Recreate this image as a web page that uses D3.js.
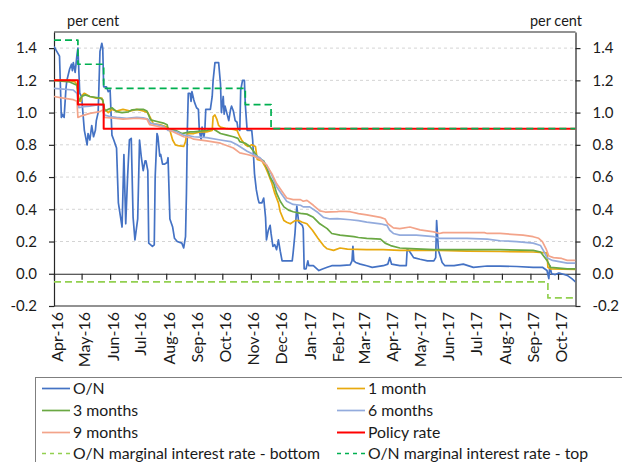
<!DOCTYPE html>
<html>
<head>
<meta charset="utf-8">
<script src="https://cdn.jsdelivr.net/npm/d3@7"></script>
<style>
  html, body { margin: 0; padding: 0; background: #fff; }
  svg text { font-family: Lato, "Open Sans", sans-serif; fill: #1a1a1a; }
</style>
</head>
<body>
<svg id="chart" width="622" height="462"></svg>
<script>
// Overnight interbank rate (per cent)
const overnight = [
  ["2016-04-01",1.41],["2016-04-04",1.38],["2016-04-07",1.35],["2016-04-09",0.97],["2016-04-10",0.99],
  ["2016-04-12",0.97],["2016-04-14",1.15],["2016-04-15",1.20],["2016-04-18",1.27],["2016-04-20",1.30],
  ["2016-04-21",1.26],["2016-04-22",1.31],["2016-04-24",1.25],["2016-04-26",1.36],["2016-04-27",1.40],
  ["2016-04-29",1.12],["2016-05-01",1.10],["2016-05-04",0.89],["2016-05-07",0.80],["2016-05-08",0.87],
  ["2016-05-10",0.83],["2016-05-12",0.92],["2016-05-14",0.85],["2016-05-16",0.89],["2016-05-17",0.95],
  ["2016-05-19",1.00],["2016-05-21",1.38],["2016-05-23",1.43],["2016-05-24",1.40],["2016-05-25",1.16],
  ["2016-05-28",1.16],["2016-05-30",1.13],["2016-06-01",1.14],["2016-06-03",0.86],["2016-06-05",0.83],
  ["2016-06-08",0.78],["2016-06-10",0.44],["2016-06-14",0.29],["2016-06-16",0.74],["2016-06-18",0.31],
  ["2016-06-20",0.60],["2016-06-22",0.83],["2016-06-24",0.84],["2016-06-26",0.35],["2016-06-28",0.21],
  ["2016-07-01",0.34],["2016-07-03",0.83],["2016-07-05",0.72],["2016-07-07",0.64],["2016-07-09",0.70],
  ["2016-07-10",0.70],["2016-07-12",0.64],["2016-07-13",0.19],["2016-07-17",0.17],["2016-07-19",0.18],
  ["2016-07-20",0.60],["2016-07-22",0.87],["2016-07-23",0.85],["2016-07-25",0.73],["2016-07-26",0.74],
  ["2016-07-28",0.68],["2016-07-30",0.68],["2016-08-02",0.69],["2016-08-03",0.72],["2016-08-05",0.34],
  ["2016-08-08",0.29],["2016-08-10",0.22],["2016-08-13",0.20],["2016-08-18",0.19],["2016-08-20",0.16],
  ["2016-08-22",0.23],["2016-08-23",0.50],["2016-08-24",0.90],["2016-08-25",1.12],["2016-08-27",1.12],
  ["2016-08-28",1.07],["2016-08-29",1.13],["2016-08-31",1.08],["2016-09-01",1.06],["2016-09-03",1.03],
  ["2016-09-05",1.02],["2016-09-06",0.89],["2016-09-08",0.83],["2016-09-09",0.91],["2016-09-11",0.85],
  ["2016-09-12",0.89],["2016-09-13",1.02],["2016-09-16",1.02],["2016-09-18",1.02],["2016-09-20",1.10],
  ["2016-09-21",1.20],["2016-09-23",1.31],["2016-09-27",1.31],["2016-09-29",1.18],["2016-09-30",1.00],
  ["2016-10-02",1.10],["2016-10-03",0.99],["2016-10-04",1.04],["2016-10-08",0.95],["2016-10-10",1.02],
  ["2016-10-11",1.04],["2016-10-13",1.01],["2016-10-15",0.95],["2016-10-17",0.94],["2016-10-18",0.90],
  ["2016-10-20",0.89],["2016-10-21",1.14],["2016-10-23",1.20],["2016-10-25",1.20],["2016-10-26",1.05],
  ["2016-10-28",0.89],["2016-11-02",0.89],["2016-11-03",0.83],["2016-11-05",0.62],["2016-11-07",0.52],
  ["2016-11-09",0.46],["2016-11-10",0.44],["2016-11-13",0.44],["2016-11-15",0.47],["2016-11-17",0.35],
  ["2016-11-18",0.21],["2016-11-20",0.27],["2016-11-22",0.30],["2016-11-23",0.25],["2016-11-25",0.17],
  ["2016-11-27",0.18],["2016-11-29",0.15],["2016-12-01",0.21],["2016-12-03",0.14],["2016-12-05",0.08],
  ["2016-12-08",0.08],["2016-12-16",0.08],["2016-12-17",0.13],["2016-12-19",0.25],["2016-12-21",0.42],
  ["2016-12-23",0.32],["2016-12-27",0.30],["2016-12-28",0.28],["2016-12-29",0.03],["2016-12-31",0.03],
  ["2017-01-02",0.08],["2017-01-03",0.05],["2017-01-08",0.05],["2017-01-14",0.02],["2017-01-18",0.03],
  ["2017-01-23",0.04],["2017-01-28",0.05],["2017-02-06",0.05],["2017-02-17",0.055],["2017-02-19",0.08],
  ["2017-02-20",0.17],["2017-02-21",0.08],["2017-02-23",0.07],["2017-02-28",0.06],["2017-03-07",0.05],
  ["2017-03-13",0.04],["2017-03-25",0.05],["2017-03-30",0.06],["2017-04-01",0.10],["2017-04-03",0.06],
  ["2017-04-12",0.05],["2017-04-19",0.05],["2017-04-20",0.155],["2017-04-23",0.135],["2017-04-27",0.10],
  ["2017-05-04",0.09],["2017-05-12",0.08],["2017-05-19",0.08],["2017-05-21",0.10],["2017-05-22",0.33],
  ["2017-05-24",0.145],["2017-05-28",0.07],["2017-05-31",0.05],["2017-06-10",0.05],["2017-06-20",0.06],
  ["2017-07-01",0.04],["2017-07-16",0.048],["2017-07-30",0.048],["2017-08-17",0.045],["2017-09-04",0.04],
  ["2017-09-14",0.04],["2017-09-19",0.02],["2017-09-21",-0.03],["2017-09-22",0.05],["2017-09-24",0.00],
  ["2017-09-28",-0.005],["2017-10-02",0.005],["2017-10-05",0.00],["2017-10-11",-0.01],["2017-10-16",-0.03],
  ["2017-10-20",-0.05]
];

// 1-month rate
const oneMonth = [
  ["2016-04-01",1.20],["2016-04-18",1.20],["2016-04-24",1.19],["2016-04-26",1.17],["2016-04-28",1.08],
  ["2016-04-30",1.07],["2016-05-02",1.11],["2016-05-04",1.12],["2016-05-10",1.10],["2016-05-17",1.09],
  ["2016-05-23",1.09],["2016-05-24",1.07],["2016-05-26",1.02],["2016-05-30",1.00],["2016-06-03",1.02],
  ["2016-06-08",1.01],["2016-06-15",1.02],["2016-06-23",1.01],["2016-06-30",1.02],["2016-07-07",1.01],
  ["2016-07-12",1.00],["2016-07-15",0.965],["2016-07-18",0.93],["2016-07-25",0.925],["2016-08-02",0.91],
  ["2016-08-05",0.89],["2016-08-08",0.83],["2016-08-11",0.80],["2016-08-14",0.795],["2016-08-20",0.79],
  ["2016-08-22",0.82],["2016-08-23",0.86],["2016-08-25",0.87],["2016-08-31",0.87],["2016-09-07",0.88],
  ["2016-09-14",0.88],["2016-09-20",0.89],["2016-09-21",0.975],["2016-09-23",0.985],["2016-09-25",0.96],
  ["2016-09-27",0.92],["2016-09-29",0.91],["2016-10-06",0.90],["2016-10-13",0.895],["2016-10-17",0.89],
  ["2016-10-20",0.85],["2016-10-22",0.83],["2016-10-26",0.80],["2016-10-29",0.79],["2016-11-02",0.80],
  ["2016-11-06",0.79],["2016-11-08",0.71],["2016-11-13",0.70],["2016-11-17",0.66],["2016-11-20",0.62],
  ["2016-11-24",0.56],["2016-11-27",0.50],["2016-12-01",0.44],["2016-12-03",0.385],["2016-12-07",0.33],
  ["2016-12-10",0.32],["2016-12-14",0.31],["2016-12-19",0.33],["2016-12-23",0.33],["2016-12-27",0.32],
  ["2017-01-01",0.31],["2017-01-07",0.27],["2017-01-13",0.22],["2017-01-19",0.175],["2017-01-23",0.155],
  ["2017-01-30",0.145],["2017-02-06",0.16],["2017-02-14",0.153],["2017-03-07",0.15],["2017-03-25",0.15],
  ["2017-04-12",0.145],["2017-04-30",0.147],["2017-05-25",0.145],["2017-06-24",0.14],["2017-07-30",0.138],
  ["2017-09-04",0.135],["2017-09-19",0.13],["2017-09-20",0.04],["2017-09-23",0.03],["2017-10-20",0.027]
];

// 3-month rate
const threeMonths = [
  ["2016-04-01",1.20],["2016-04-18",1.19],["2016-04-26",1.17],["2016-04-28",1.07],["2016-05-01",1.10],
  ["2016-05-05",1.11],["2016-05-10",1.10],["2016-05-21",1.09],["2016-05-24",1.08],["2016-05-26",1.01],
  ["2016-05-30",1.02],["2016-06-03",1.03],["2016-06-08",1.006],["2016-06-14",1.00],["2016-06-21",1.005],
  ["2016-06-25",1.017],["2016-07-02",1.02],["2016-07-07",1.02],["2016-07-11",1.01],["2016-07-15",0.955],
  ["2016-07-22",0.945],["2016-07-29",0.935],["2016-08-02",0.925],["2016-08-03",0.90],["2016-08-11",0.89],
  ["2016-08-18",0.87],["2016-08-27",0.88],["2016-08-31",0.88],["2016-09-07",0.885],["2016-09-14",0.89],
  ["2016-09-21",0.90],["2016-09-29",0.87],["2016-10-06",0.86],["2016-10-13",0.85],["2016-10-18",0.84],
  ["2016-10-20",0.82],["2016-10-26",0.81],["2016-10-31",0.79],["2016-11-04",0.76],["2016-11-09",0.72],
  ["2016-11-15",0.70],["2016-11-19",0.65],["2016-11-22",0.60],["2016-11-26",0.56],["2016-11-29",0.50],
  ["2016-12-03",0.45],["2016-12-07",0.415],["2016-12-12",0.395],["2016-12-17",0.385],["2016-12-25",0.375],
  ["2017-01-01",0.37],["2017-01-08",0.35],["2017-01-15",0.31],["2017-01-23",0.28],["2017-01-28",0.25],
  ["2017-02-06",0.24],["2017-02-21",0.23],["2017-02-26",0.225],["2017-03-07",0.22],["2017-03-22",0.215],
  ["2017-03-27",0.19],["2017-04-02",0.175],["2017-04-12",0.16],["2017-04-30",0.155],["2017-05-19",0.15],
  ["2017-06-24",0.15],["2017-07-30",0.15],["2017-09-04",0.145],["2017-09-12",0.135],["2017-09-19",0.083],
  ["2017-09-23",0.04],["2017-10-11",0.03],["2017-10-20",0.03]
];

// 6-month rate
const sixMonths = [
  ["2016-04-01",1.15],["2016-04-11",1.145],["2016-04-22",1.14],["2016-04-26",1.12],["2016-04-28",1.03],
  ["2016-05-03",1.037],["2016-05-10",1.04],["2016-05-21",1.05],["2016-05-24",1.045],["2016-05-26",0.985],
  ["2016-06-01",0.975],["2016-06-08",0.97],["2016-06-19",0.965],["2016-06-30",0.97],["2016-07-07",0.968],
  ["2016-07-12",0.96],["2016-07-15",0.935],["2016-07-22",0.925],["2016-07-29",0.915],["2016-08-03",0.89],
  ["2016-08-13",0.88],["2016-08-20",0.86],["2016-08-27",0.855],["2016-08-31",0.85],["2016-09-14",0.845],
  ["2016-09-29",0.83],["2016-10-10",0.82],["2016-10-17",0.80],["2016-10-28",0.76],["2016-11-04",0.74],
  ["2016-11-11",0.72],["2016-11-18",0.675],["2016-11-24",0.61],["2016-11-29",0.54],["2016-12-05",0.49],
  ["2016-12-10",0.45],["2016-12-17",0.43],["2016-12-25",0.425],["2016-12-28",0.415],["2017-01-04",0.415],
  ["2017-01-13",0.38],["2017-01-19",0.35],["2017-01-26",0.34],["2017-02-03",0.342],["2017-02-17",0.335],
  ["2017-02-26",0.33],["2017-03-07",0.32],["2017-03-22",0.31],["2017-03-29",0.30],["2017-04-01",0.27],
  ["2017-04-05",0.25],["2017-04-12",0.24],["2017-04-30",0.24],["2017-05-19",0.23],["2017-05-25",0.22],
  ["2017-06-24",0.22],["2017-07-16",0.215],["2017-07-30",0.205],["2017-08-17",0.20],["2017-09-04",0.19],
  ["2017-09-12",0.175],["2017-09-15",0.145],["2017-09-19",0.10],["2017-09-25",0.083],["2017-10-11",0.066],
  ["2017-10-20",0.066]
];

// 9-month rate
const nineMonths = [
  ["2016-04-01",1.10],["2016-04-11",1.09],["2016-04-22",1.08],["2016-04-26",1.07],["2016-04-27",0.97],
  ["2016-05-01",0.98],["2016-05-10",0.995],["2016-05-21",1.006],["2016-05-24",1.017],["2016-05-26",0.97],
  ["2016-06-05",0.965],["2016-06-15",0.96],["2016-06-30",0.965],["2016-07-11",0.96],["2016-07-14",0.925],
  ["2016-07-22",0.915],["2016-08-02",0.90],["2016-08-09",0.88],["2016-08-20",0.85],["2016-08-27",0.845],
  ["2016-08-31",0.835],["2016-09-14",0.825],["2016-09-29",0.81],["2016-10-13",0.78],["2016-10-20",0.75],
  ["2016-10-28",0.74],["2016-11-04",0.73],["2016-11-11",0.71],["2016-11-18",0.675],["2016-11-24",0.62],
  ["2016-11-29",0.56],["2016-12-05",0.51],["2016-12-10",0.47],["2016-12-17",0.46],["2016-12-25",0.46],
  ["2016-12-28",0.45],["2017-01-01",0.455],["2017-01-08",0.425],["2017-01-15",0.39],["2017-01-21",0.383],
  ["2017-02-03",0.385],["2017-02-06",0.388],["2017-02-17",0.385],["2017-02-26",0.373],["2017-03-07",0.365],
  ["2017-03-22",0.35],["2017-03-27",0.34],["2017-03-30",0.31],["2017-04-05",0.285],["2017-04-12",0.28],
  ["2017-04-23",0.29],["2017-05-04",0.272],["2017-05-19",0.26],["2017-05-25",0.25],["2017-05-29",0.255],
  ["2017-06-24",0.255],["2017-07-13",0.255],["2017-07-16",0.25],["2017-07-30",0.25],["2017-08-24",0.24],
  ["2017-09-04",0.23],["2017-09-10",0.22],["2017-09-14",0.20],["2017-09-18",0.155],["2017-09-21",0.11],
  ["2017-09-26",0.10],["2017-10-05",0.095],["2017-10-11",0.083],["2017-10-20",0.083]
];

// Central bank rates: each value holds until the next date
const policyRate = [["2016-04-01",1.20],["2016-04-27",1.05],["2016-05-25",0.90],["2017-10-20",0.90]];
const corridorBottom = [["2016-04-01",-0.05],["2017-09-20",-0.15],["2017-10-20",-0.15]];
const corridorTop = [["2016-04-01",1.45],["2016-04-27",1.30],["2016-05-25",1.15],["2016-10-26",1.05],
  ["2016-11-23",0.90],["2017-10-20",0.90]];

const legendNames = ["O/N", "1 month", "3 months", "6 months", "9 months", "Policy rate",
  "O/N marginal interest rate - bottom", "O/N marginal interest rate - top"];
const monthLabels = ["Apr-16","May-16","Jun-16","Jul-16","Aug-16","Sep-16","Oct-16","Nov-16","Dec-16",
  "Jan-17","Feb-17","Mar-17","Apr-17","May-17","Jun-17","Jul-17","Aug-17","Sep-17","Oct-17"];
const yTicks = [-0.2, 0, 0.2, 0.4, 0.6, 0.8, 1.0, 1.2, 1.4];
const unitLabel = "per cent";
const dateRange = ["2016-04-01", "2017-10-20"];

// ---- drawing ----
const parseDay = d3.timeParse("%Y-%m-%d");
const parseMonth = d3.timeParse("%b-%y");
const toPoints = rows => rows.map(([d, v]) => ({ date: parseDay(d), value: v }));

const svg = d3.select("#chart");
const plot = { left: 54, right: 575.5, top: 32, bottom: 306 };

const x = d3.scaleTime().domain(dateRange.map(parseDay)).range([plot.left, plot.right]);
const y = d3.scaleLinear().domain([-0.2, 1.5]).range([plot.bottom, plot.top]);

const ink = "#262626";
const fmt = v => v.toFixed(1);

// horizontal gridlines
svg.append("g").selectAll("line")
  .data(yTicks.filter(v => v > 0))
  .join("line")
  .attr("x1", plot.left).attr("x2", plot.right)
  .attr("y1", d => y(d)).attr("y2", d => y(d))
  .attr("stroke", "#d4d4d4").attr("stroke-width", 1).attr("stroke-dasharray", "3,3");

// frame top and bottom
svg.append("line").attr("x1", plot.left).attr("x2", plot.right)
  .attr("y1", plot.top).attr("y2", plot.top).attr("stroke", ink).attr("stroke-width", 1.2);
svg.append("line").attr("x1", plot.left).attr("x2", plot.right)
  .attr("y1", plot.bottom).attr("y2", plot.bottom).attr("stroke", ink).attr("stroke-width", 1.2);

// y axes, left and right
const leftAxis = d3.axisLeft(y).tickValues(yTicks).tickSize(5).tickSizeOuter(0).tickPadding(12).tickFormat(fmt);
const rightAxis = d3.axisRight(y).tickValues(yTicks).tickSize(5).tickSizeOuter(0).tickPadding(12).tickFormat(fmt);
[[leftAxis, plot.left], [rightAxis, plot.right]].forEach(([ax, pos]) => {
  const g = svg.append("g").attr("transform", `translate(${pos},0)`).call(ax);
  g.select(".domain").attr("stroke", ink).attr("stroke-width", 1.2);
  g.selectAll(".tick line").attr("stroke", ink).attr("stroke-width", 1.2);
  g.selectAll(".tick text").attr("font-size", 15).attr("fill", "#1a1a1a")
    .style("font-family", "Lato, 'Open Sans', sans-serif");
});

// x axis along zero with monthly ticks
const monthDates = monthLabels.map(parseMonth);
const xAxis = d3.axisBottom(x).tickValues(monthDates).tickSize(6).tickSizeOuter(0).tickFormat("");
const xg = svg.append("g").attr("transform", `translate(0,${y(0)})`).call(xAxis);
xg.select(".domain").attr("stroke", ink).attr("stroke-width", 1.2);
xg.selectAll(".tick line").attr("stroke", ink).attr("stroke-width", 1.2);

// rotated month labels below the plot
svg.append("g").selectAll("text")
  .data(monthDates)
  .join("text")
  .attr("transform", d => `translate(${x(d) + 3},${plot.bottom + 6}) rotate(-90)`)
  .attr("text-anchor", "end")
  .attr("dy", "0.35em")
  .attr("font-size", 16)
  .text((d, i) => monthLabels[i]);

// unit labels
svg.append("text").attr("x", 67).attr("y", 26).attr("font-size", 14.5).text(unitLabel);
svg.append("text").attr("x", 582).attr("y", 26).attr("font-size", 14.5).attr("text-anchor", "end").text(unitLabel);

// series
const series = [
  { name: legendNames[0], rows: overnight, color: "#4472c4", width: 1.7 },
  { name: legendNames[1], rows: oneMonth, color: "#e8a90e", width: 1.7 },
  { name: legendNames[2], rows: threeMonths, color: "#6aa843", width: 1.7 },
  { name: legendNames[3], rows: sixMonths, color: "#93abdd", width: 1.7 },
  { name: legendNames[4], rows: nineMonths, color: "#f3a48a", width: 1.7 },
  { name: legendNames[5], rows: policyRate, color: "#ff0000", width: 2, step: true },
  { name: legendNames[6], rows: corridorBottom, color: "#92d050", width: 1.7, step: true, dash: "7,4" },
  { name: legendNames[7], rows: corridorTop, color: "#00b050", width: 1.7, step: true, dash: "7,4" }
];

svg.append("clipPath").attr("id", "plotClip")
  .append("rect").attr("x", plot.left).attr("y", plot.top)
  .attr("width", plot.right - plot.left).attr("height", plot.bottom - plot.top);

const lines = svg.append("g").attr("clip-path", "url(#plotClip)");
series.forEach(s => {
  const gen = d3.line().x(d => x(d.date)).y(d => y(d.value))
    .curve(s.step ? d3.curveStepAfter : d3.curveLinear);
  lines.append("path")
    .datum(toPoints(s.rows))
    .attr("d", gen)
    .attr("fill", "none")
    .attr("stroke", s.color)
    .attr("stroke-width", s.width)
    .attr("stroke-linejoin", "round")
    .attr("stroke-dasharray", s.dash || null);
});

// legend
const legend = svg.append("g");
legend.append("rect").attr("x", 35.5).attr("y", 377.5).attr("width", 620).attr("height", 120)
  .attr("fill", "#fff").attr("stroke", "#7f7f7f").attr("stroke-width", 1);
const colX = [42, 337];
const rowY = [388.5, 410.5, 432.5, 453.5];
series.forEach((s, i) => {
  const cx = colX[i % 2], cy = rowY[Math.floor(i / 2)];
  legend.append("line").attr("x1", cx).attr("x2", cx + 28).attr("y1", cy).attr("y2", cy)
    .attr("stroke", s.color).attr("stroke-width", s.width)
    .attr("stroke-dasharray", s.dash ? "4,4" : null);
  legend.append("text").attr("x", cx + 31).attr("y", cy).attr("dy", "0.33em")
    .attr("font-size", 15.8).text(s.name);
});
</script>
</body>
</html>
